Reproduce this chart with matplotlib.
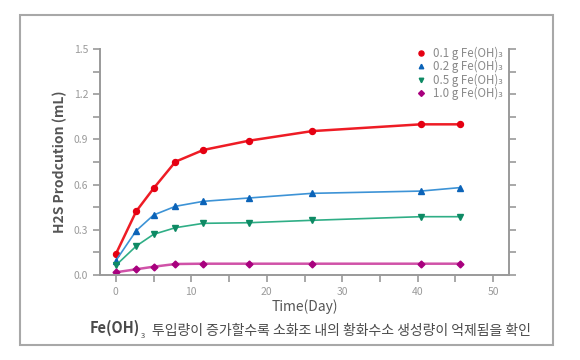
import matplotlib
matplotlib.use("Agg")
import matplotlib.pyplot as plt
from matplotlib.ticker import MultipleLocator
from matplotlib.patches import Rectangle

plt.rcParams['font.family'] = ['Noto Sans CJK KR', 'DejaVu Sans']

days = [0, 2.7, 5, 7.9, 11.6, 17.6, 26, 40.4, 45.6]
h2s_01 = [0.139, 0.423, 0.575, 0.752, 0.83, 0.891, 0.955, 1.0, 1.0]
h2s_02 = [0.095, 0.294, 0.398, 0.456, 0.489, 0.511, 0.542, 0.557, 0.58]
h2s_05 = [0.064, 0.192, 0.27, 0.314, 0.343, 0.347, 0.363, 0.387, 0.387]
h2s_10 = [0.018, 0.038, 0.055, 0.073, 0.075, 0.075, 0.075, 0.075, 0.075]
labels = ["0.1 g Fe(OH)₃", "0.2 g Fe(OH)₃", "0.5 g Fe(OH)₃", "1.0 g Fe(OH)₃"]
y_ticks = [0.0, 0.3, 0.6, 0.9, 1.2, 1.5]
x_ticks = [0, 10, 20, 30, 40, 50]

fig = plt.figure(figsize=(5.8, 3.6), dpi=100)
ax = fig.add_axes([100/580, 1-275/360, 409/580, 226/360])

gray = '#9a9a9a'
ax.plot(days, h2s_01, color='#ee1c25', lw=1.8, marker='o', ms=4.3,
        mfc='#e50012', mec='#e50012', label=labels[0])
ax.plot(days, h2s_02, color='#3d93d6', lw=1.2, marker='^', ms=3.8,
        mfc='#0b63b8', mec='#0b63b8', label=labels[1])
ax.plot(days, h2s_05, color='#2fae86', lw=1.2, marker='v', ms=3.8,
        mfc='#0e8a64', mec='#0e8a64', label=labels[2])
ax.plot(days, h2s_10, color='#d052a8', lw=1.8, marker='D', ms=3.5,
        mfc='#a8007e', mec='#a8007e', label=labels[3])

ax.set_xlim(-2.1, 52.1)
ax.set_ylim(0, 1.5)
ax.set_xticks(x_ticks)
ax.set_yticks(y_ticks)
ax.set_yticklabels([f"{v:.1f}" for v in y_ticks])
ax.xaxis.set_minor_locator(MultipleLocator(5))
ax.yaxis.set_minor_locator(MultipleLocator(0.15))

for s in ['left', 'bottom', 'right']:
    ax.spines[s].set_color(gray)
    ax.spines[s].set_linewidth(1.4)
ax.spines['top'].set_visible(False)

ax.tick_params(axis='both', which='both', direction='out', color=gray,
               width=1.2, labelcolor='#9a9a9a', labelsize=7.5)
ax.tick_params(axis='both', which='major', length=5)
ax.tick_params(axis='both', which='minor', length=5)
ax.tick_params(axis='y', which='both', right=True, labelright=False)

ax.set_xlabel("Time(Day)", fontsize=10, color='#555555', labelpad=2)
ax.set_ylabel("H2S Prodcution (mL)", fontsize=10, color='#555555',
              fontweight='bold', labelpad=5)

leg = ax.legend(loc='upper left', bbox_to_anchor=(0.755, 1.045), frameon=False,
                fontsize=8.3, labelcolor='#8a8a8a', handlelength=0.8,
                handletextpad=0.6, labelspacing=0.0, borderpad=0.2,
                markerscale=0.85)
for h in leg.legend_handles:
    h.set_linestyle('none')

# caption
t1 = fig.text(90/580, 1-333/360, "Fe(OH)", fontsize=10.5, fontweight='bold',
              color='#4a4a4a', ha='left', va='baseline')
t2 = ax.annotate("3", xy=(1, 0), xycoords=t1, xytext=(0.3, -1.5),
                 textcoords='offset points', fontsize=5.5, color='#4a4a4a',
                 ha='left', va='baseline', annotation_clip=False)
t3 = ax.annotate("투입량이 증가할수록 소화조 내의 황화수소 생성량이 억제됨을 확인",
                 xy=(1, 0), xycoords=t2, xytext=(5, 1.5),
                 textcoords='offset points', fontsize=10, color='#4a4a4a',
                 ha='left', va='bottom', annotation_clip=False)

fig.patches.append(Rectangle((20/580, 1-345/360), 533/580, 330/360,
                             transform=fig.transFigure, fill=False,
                             edgecolor='#a8a8a8', lw=1.5))

fig.savefig("out.png", dpi=100)
